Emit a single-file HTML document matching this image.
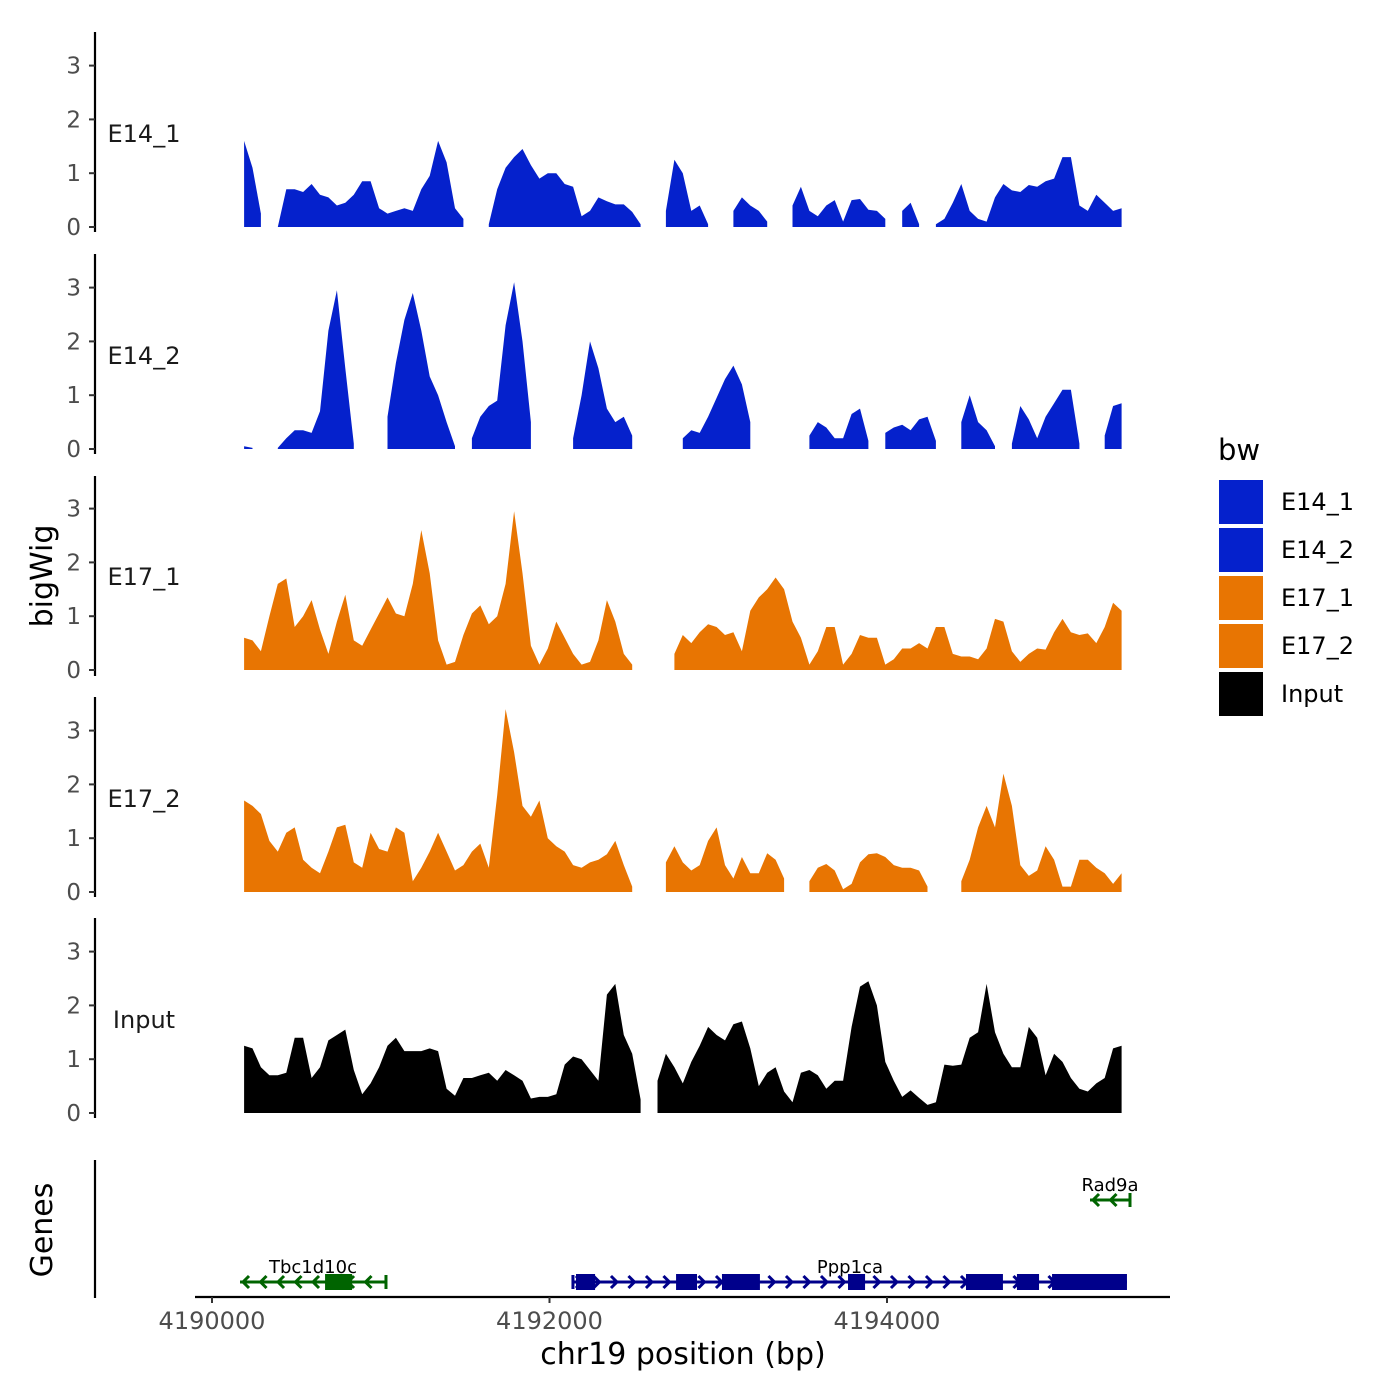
<!DOCTYPE html>
<html><head><meta charset="utf-8"><style>
html,body{margin:0;padding:0;background:#fff;}
svg{display:block;font-family:"DejaVu Sans","Liberation Sans",sans-serif;}
</style></head><body>
<svg id="chart" width="1400" height="1400" viewBox="0 0 1400 1400" xmlns="http://www.w3.org/2000/svg">
<rect width="1400" height="1400" fill="#fff"/>
</svg>
<script>
const trackNames = ["E14_1","E14_2","E17_1","E17_2","Input"];
const trackColors = ["#0521cc","#0521cc","#e87502","#e87502","#000000"];
const binStart = 4190190;
const binSize = 50;
const yTicks = [0,1,2,3];
const xTicks = [4190000,4192000,4194000];
const xTickLabels = ["4190000","4192000","4194000"];
const N = null;
const e14_1 = [1.6,1.1,0.25,N,0,0.7,0.7,0.65,0.8,0.6,0.55,0.4,0.45,0.6,0.85,0.85,0.35,0.25,0.3,0.35,0.3,0.7,0.95,1.6,1.2,0.35,0.15,N,N,0.05,0.7,1.1,1.3,1.45,1.15,0.9,1.0,1.0,0.8,0.75,0.2,0.3,0.55,0.48,0.42,0.42,0.28,0.05,N,N,0.3,1.25,1.0,0.3,0.4,0.05,N,N,0.3,0.55,0.4,0.3,0.1,N,N,0.4,0.75,0.3,0.2,0.4,0.5,0.1,0.5,0.52,0.32,0.3,0.15,N,0.3,0.45,0.05,N,0.05,0.15,0.45,0.8,0.3,0.15,0.1,0.55,0.8,0.68,0.65,0.78,0.75,0.85,0.9,1.3,1.3,0.4,0.3,0.6,0.45,0.3,0.35];
const e14_2 = [0.05,0.02,N,N,0.02,0.2,0.35,0.35,0.3,0.7,2.2,2.95,1.5,0.1,N,N,N,0.6,1.6,2.4,2.9,2.2,1.35,1.0,0.5,0.05,N,0.2,0.6,0.8,0.9,2.3,3.1,2.0,0.5,N,N,N,N,0.2,1.0,2.0,1.5,0.75,0.5,0.6,0.25,N,N,N,N,N,0.2,0.35,0.3,0.6,0.95,1.3,1.55,1.2,0.5,N,N,N,N,N,N,0.25,0.5,0.4,0.2,0.2,0.65,0.75,0.15,N,0.3,0.4,0.45,0.35,0.55,0.6,0.15,N,N,0.5,1.0,0.5,0.35,0.05,N,0.1,0.8,0.55,0.2,0.6,0.85,1.1,1.1,0.1,N,N,0.25,0.8,0.85];
const e17_1 = [0.6,0.55,0.35,1.0,1.6,1.7,0.8,1.0,1.3,0.75,0.3,0.9,1.4,0.55,0.45,0.75,1.05,1.35,1.05,1.0,1.6,2.6,1.8,0.55,0.1,0.15,0.65,1.05,1.2,0.85,1.0,1.6,2.95,1.8,0.45,0.1,0.4,0.9,0.6,0.3,0.1,0.15,0.55,1.3,0.9,0.3,0.1,N,N,N,N,0.3,0.65,0.5,0.7,0.85,0.8,0.65,0.7,0.35,1.1,1.35,1.5,1.72,1.5,0.9,0.6,0.1,0.35,0.8,0.8,0.1,0.3,0.65,0.6,0.6,0.1,0.2,0.4,0.4,0.5,0.4,0.8,0.8,0.3,0.25,0.25,0.2,0.4,0.95,0.9,0.35,0.15,0.3,0.4,0.38,0.7,0.95,0.7,0.65,0.68,0.5,0.8,1.25,1.1];
const e17_2 = [1.7,1.6,1.45,0.95,0.75,1.1,1.2,0.6,0.45,0.35,0.75,1.2,1.25,0.55,0.45,1.1,0.8,0.75,1.2,1.1,0.2,0.45,0.75,1.1,0.75,0.4,0.5,0.75,0.9,0.45,1.8,3.4,2.6,1.6,1.4,1.7,1.0,0.85,0.75,0.5,0.45,0.55,0.6,0.7,0.95,0.5,0.1,N,N,N,0.55,0.85,0.55,0.4,0.5,0.95,1.2,0.5,0.25,0.65,0.35,0.35,0.72,0.6,0.25,N,N,0.2,0.45,0.52,0.4,0.05,0.15,0.55,0.7,0.72,0.65,0.5,0.45,0.45,0.4,0.1,N,N,N,0.2,0.6,1.2,1.6,1.2,2.2,1.6,0.5,0.3,0.4,0.85,0.6,0.1,0.1,0.6,0.6,0.45,0.35,0.15,0.35];
const input = [1.25,1.2,0.85,0.7,0.7,0.75,1.4,1.4,0.65,0.85,1.35,1.45,1.55,0.8,0.35,0.55,0.85,1.25,1.4,1.15,1.15,1.15,1.2,1.15,0.45,0.32,0.65,0.65,0.7,0.75,0.6,0.8,0.7,0.6,0.27,0.3,0.3,0.35,0.9,1.05,1.0,0.8,0.6,2.2,2.4,1.45,1.1,0.25,N,0.6,1.1,0.85,0.55,0.95,1.25,1.6,1.45,1.35,1.65,1.7,1.2,0.5,0.75,0.85,0.4,0.2,0.75,0.8,0.7,0.45,0.6,0.6,1.6,2.35,2.45,2.0,0.95,0.6,0.3,0.42,0.28,0.15,0.2,0.9,0.88,0.9,1.4,1.5,2.4,1.5,1.1,0.85,0.85,1.6,1.4,0.7,1.1,0.95,0.65,0.45,0.4,0.55,0.65,1.2,1.25];
const trackValues = [e14_1,e14_2,e17_1,e17_2,input];
const geneNames = ["Tbc1d10c","Ppp1ca","Rad9a"];
const geneStarts = [4190166,4192139,4195203];
const geneEnds = [4191031,4195422,4195440];
const geneStrands = [-1,1,-1];
const geneRows = [1,1,0];
const geneColors = ["#006400","#00008b","#006400"];
const exonGene = [0,1,1,1,1,1,1,1];
const exonStarts = [4190670,4192157,4192750,4193022,4193769,4194468,4194770,4194978];
const exonEnds = [4190830,4192270,4192874,4193247,4193870,4194687,4194901,4195422];

const svg = document.getElementById('chart');
const NS = 'http://www.w3.org/2000/svg';
function mk(tag, attrs, parent){const e=document.createElementNS(NS,tag);for(const k in attrs)e.setAttribute(k,attrs[k]);(parent||svg).appendChild(e);return e;}
const xScale = bp => 212 + (bp-4190000)*(337.5/2000);
const panelZero = [227,449,670,892,1113];
const unit = 53.8;
const yScale = (p,v) => panelZero[p] - v*unit;
const panelTop = [32,254,476,697,918];

trackNames.forEach((name,p)=>{
  const g = mk('g',{});
  
  
  const ax = mk('line',{x1:95,x2:95,y1:panelTop[p],y2:panelTop[p]+200,stroke:'#000','stroke-width':2.2},g);
  
  
  yTicks.forEach(t=>{
    const y=yScale(p,t);
    mk('line',{x1:89,x2:95,y1:y,y2:y,stroke:'#333','stroke-width':2},g);
    const tl = mk('text',{x:81,y:y+8,'text-anchor':'end','font-size':23,fill:'#4d4d4d'},g);
    tl.textContent=t;
    
    
  });
  const lbl = mk('text',{x:144,y:panelZero[p]-85,'text-anchor':'middle','font-size':24,fill:'#1a1a1a'},g);
  lbl.textContent=name;
  
  
  const vals = trackValues[p];
  let seg=[];
  const flush=()=>{
    if(seg.length){
      let d='M'+seg[0][0]+','+panelZero[p];
      seg.forEach(s=>{d+=' L'+s[0]+','+s[1];});
      d+=' L'+seg[seg.length-1][0]+','+panelZero[p]+' Z';
      const a=mk('path',{d:d,fill:trackColors[p]},g);
      
      
    }
    seg=[];
  };
  vals.forEach((v,i)=>{
    if(v===null){flush();return;}
    seg.push([xScale(binStart+i*binSize).toFixed(1),yScale(p,v).toFixed(1)]);
  });
  flush();
});

// genes panel
const gax = mk('line',{x1:95,x2:95,y1:1160,y2:1298,stroke:'#000','stroke-width':2.2});


const rowY=[1200,1282];
geneNames.forEach((n,i)=>{
  const g=mk('g',{});
  
  
  const y=rowY[geneRows[i]], x1=xScale(geneStarts[i]), x2=xScale(geneEnds[i]), c=geneColors[i];
  mk('line',{x1:x1,x2:x2,y1:y,y2:y,stroke:c,'stroke-width':3},g);
  mk('line',{x1:geneStrands[i]<0?x2:x1,x2:geneStrands[i]<0?x2:x1,y1:y-7,y2:y+7,stroke:c,'stroke-width':3},g);
  for(let x=x1+3;x<x2-8;x+=17.5){
    const s=geneStrands[i];
    const tip = s<0? x : x+6, back = s<0? x+6 : x;
    mk('polyline',{points:`${back},${y-6} ${tip},${y} ${back},${y+6}`,fill:'none',stroke:c,'stroke-width':3},g);
  }
  exonGene.forEach((gi,k)=>{
    if(gi!==i)return;
    const ex=mk('rect',{x:xScale(exonStarts[k]),y:y-8,width:xScale(exonEnds[k])-xScale(exonStarts[k]),height:16,fill:c},g);
    
    
  });
  const t=mk('text',{x:(x1+x2)/2,y:y-9,'text-anchor':'middle','font-size':18,fill:'#000'},g);
  t.textContent=n;
  
  
});

// x axis
const xa=mk('line',{x1:195,x2:1170,y1:1297,y2:1297,stroke:'#000','stroke-width':2.2});


xTicks.forEach((t,i)=>{
  const x=xScale(t);
  mk('line',{x1:x,x2:x,y1:1297,y2:1303,stroke:'#333','stroke-width':2});
  const tl=mk('text',{x:x,y:1329,'text-anchor':'middle','font-size':24,fill:'#4d4d4d'});
  tl.textContent=xTickLabels[i];
  
  
});
const xt=mk('text',{x:683,y:1364,'text-anchor':'middle','font-size':30,fill:'#000'});
xt.textContent='chr19 position (bp)';


const yt=mk('text',{x:52,y:576,'text-anchor':'middle','font-size':30,fill:'#000',transform:'rotate(-90 52 576)'});
yt.textContent='bigWig';


const gt=mk('text',{x:52,y:1230,'text-anchor':'middle','font-size':30,fill:'#000',transform:'rotate(-90 52 1230)'});
gt.textContent='Genes';



// legend
const lt=mk('text',{x:1218,y:460,'font-size':29,fill:'#000'});
lt.textContent='bw';


trackNames.forEach((n,i)=>{
  const g=mk('g',{});
  
  
  mk('rect',{x:1219,y:480+i*48,width:44,height:44,fill:trackColors[i]},g);
  const t=mk('text',{x:1281,y:510+i*48,'font-size':24,fill:'#000'},g);
  t.textContent=n;
});
</script>
</body></html>
